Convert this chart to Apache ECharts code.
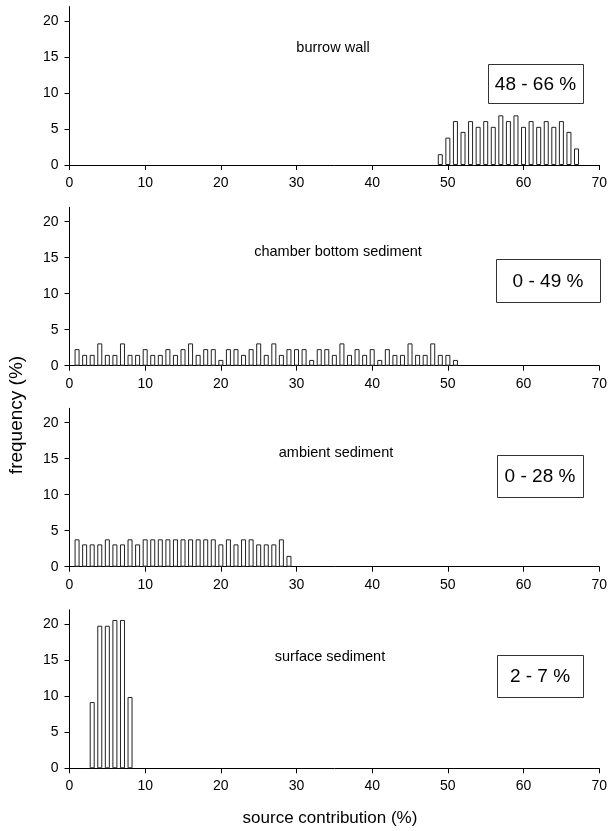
<!DOCTYPE html>
<html>
<head>
<meta charset="utf-8">
<script src="https://cdn.jsdelivr.net/npm/echarts@6/dist/echarts.min.js"></script>
<style>html,body{margin:0;padding:0;background:#fff}#c{width:610px;height:831px}</style>
</head>
<body>
<div id="c"></div>
<script>
// ---- data (frequency %) ----
const burrowX = [49,50,51,52,53,54,55,56,57,58,59,60,61,62,63,64,65,66,67];
const burrowY = [1.5,3.8,6.1,4.6,6.1,5.3,6.1,5.3,6.9,6.1,6.9,5.3,6.1,5.3,6.1,5.3,6.1,4.6,2.3];

const chamberX = [1,2,3,4,5,6,7,8,9,10,11,12,13,14,15,16,17,18,19,20,21,22,23,24,25,26,27,28,29,30,31,32,33,34,35,36,37,38,39,40,41,42,43,44,45,46,47,48,49,50,51];
const chamberY = [2.3,1.5,1.5,3.1,1.5,1.5,3.1,1.5,1.5,2.3,1.5,1.5,2.3,1.5,2.3,3.1,
                  1.5,2.3,2.3,0.8,2.3,2.3,1.5,2.3,3.1,1.5,3.1,1.5,2.3,2.3,2.3,0.8,
                  2.3,2.3,1.5,3.1,1.5,2.3,1.5,2.3,0.8,2.3,1.5,1.5,3.1,1.5,1.5,3.1,1.5,1.5,0.8];

const ambientX = [1,2,3,4,5,6,7,8,9,10,11,12,13,14,15,16,17,18,19,20,21,22,23,24,25,26,27,28,29];
const ambientY = [3.8,3.1,3.1,3.1,3.8,3.1,3.1,3.8,3.1,3.8,3.8,3.8,3.8,3.8,3.8,3.8,3.8,3.8,3.8,3.1,3.8,3.1,3.8,3.8,3.1,3.1,3.1,3.8,1.5];

const surfaceX = [3,4,5,6,7,8];
const surfaceY = [9.2,19.8,19.8,20.6,20.6,9.9];

const panelNames = ['burrow wall','chamber bottom sediment','ambient sediment','surface sediment'];
const rangeLabels = ['48 - 66 %','0 - 49 %','0 - 28 %','2 - 7 %'];
const yTickValues = [0,5,10,15,20];
const xTitle = 'source contribution (%)';
const yTitle = 'frequency (%)';

// ---- layout ----
const FONT = '"Liberation Sans", Arial, sans-serif';
const seriesX = [burrowX, chamberX, ambientX, surfaceX];
const seriesY = [burrowY, chamberY, ambientY, surfaceY];
const gridTops = [6.6, 207.3, 408.3, 609.9];
const gridH = 158.4;
const gridLeft = 69.5, gridW = 530.5;
const nameXY = [[333,48],[338,252],[336,453],[330,657]];
const boxes = [[488,64,95,39],[496,259,104,43],[497,455,86,42],[497,655,86,42]];

const grids=[], xAxes=[], yAxes=[], series=[], graphics=[];
for (let i=0;i<4;i++){
  grids.push({left:gridLeft, top:gridTops[i], width:gridW, height:gridH, containLabel:false});
  xAxes.push({type:'value', gridIndex:i, min:0, max:70, interval:10,
    axisLine:{show:true, onZero:false, lineStyle:{color:'#000', width:1}},
    axisTick:{show:true, length:5, lineStyle:{color:'#000'}},
    axisLabel:{color:'#000', fontSize:14, fontFamily:FONT, margin:11},
    splitLine:{show:false}});
  yAxes.push({type:'value', gridIndex:i, min:0, max:22,
    axisLine:{show:true, lineStyle:{color:'#000', width:1}},
    axisTick:{show:true, length:5, customValues:yTickValues, lineStyle:{color:'#000'}},
    axisLabel:{color:'#000', fontSize:14, fontFamily:FONT, margin:11, customValues:yTickValues},
    splitLine:{show:false}});
  series.push({type:'bar', xAxisIndex:i, yAxisIndex:i, barWidth:5,
    data: seriesX[i].map((x,k)=>[x, seriesY[i][k]]),
    itemStyle:{color:'#fff', borderColor:'#222', borderWidth:1},
    silent:true, animation:false});
  graphics.push({type:'text', x:nameXY[i][0], y:nameXY[i][1],
    style:{text:panelNames[i], font:'14.5px '+FONT, fill:'#000', textAlign:'center', textVerticalAlign:'middle'}});
  const b = boxes[i];
  graphics.push({type:'rect', shape:{x:b[0]+0.5, y:b[1]+0.5, width:b[2], height:b[3]},
    style:{fill:'#fff', stroke:'#333', lineWidth:1}});
  graphics.push({type:'text', x:b[0]+b[2]/2, y:b[1]+b[3]/2+1,
    style:{text:rangeLabels[i], font:'19px '+FONT, fill:'#000', textAlign:'center', textVerticalAlign:'middle'}});
}
graphics.push({type:'text', x:330, y:818,
  style:{text:xTitle, font:'17px '+FONT, fill:'#000', textAlign:'center', textVerticalAlign:'middle'}});
graphics.push({type:'text', x:17, y:415, rotation:Math.PI/2,
  style:{text:yTitle, font:'19px '+FONT, fill:'#000', textAlign:'center', textVerticalAlign:'middle'}});

const chart = echarts.init(document.getElementById('c'), null, {renderer:'canvas'});
chart.setOption({animation:false, backgroundColor:'#fff', grid:grids, xAxis:xAxes, yAxis:yAxes, series:series, graphic:graphics});
</script>
</body>
</html>
